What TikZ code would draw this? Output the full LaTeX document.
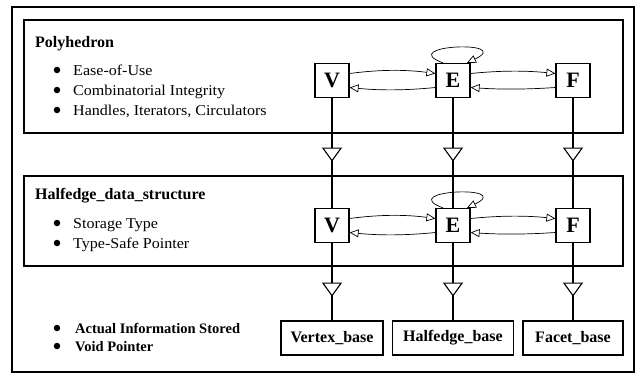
\documentclass[tikz,border=0pt]{standalone}
\usepackage{fontspec}
\setmainfont{Liberation Serif}
\newfontfamily\itemfont{Liberation Serif}[FakeStretch=1.07]
\usetikzlibrary{arrows.meta,decorations.markings}

\begin{document}
\begin{tikzpicture}[x=1pt,y=-1pt,
  frame/.style={draw, line width=1.3pt},
  cls/.style={draw, line width=1.2pt, fill=white, minimum width=34pt, minimum height=34pt,
    inner sep=0pt, font=\fontsize{22}{22}\selectfont\bfseries},
  basebox/.style={draw, line width=1.2pt, minimum height=34pt, inner sep=0pt,
    font=\fontsize{16}{16}\selectfont\bfseries},
  title/.style={anchor=base west, inner sep=0pt, font=\fontsize{16}{16}\selectfont\bfseries},
  item/.style={anchor=base west, inner sep=0pt, font=\itemfont\fontsize{15}{15}\selectfont},
  bolditem/.style={anchor=base west, inner sep=0pt, font=\fontsize{14.5}{15}\selectfont\bfseries},
  dot/.style={circle, fill, inner sep=0pt, minimum size=6.5pt},
  assoc/.style={line width=0.7pt, -{Triangle[open, length=9pt, width=8pt]}},
  inherit/.style={line width=1.1pt, postaction={decorate},
    decoration={markings, mark=at position #1 with
      {\arrow{Triangle[fill=white, length=14pt, width=20pt]}}}},
]
\useasboundingbox (0,0) rectangle (638,376);

% outer frame and the two layer panels
\draw[line width=2.2pt] (12,7) rectangle (634,372);
\draw[frame] (24,20) rectangle (623,133);
\draw[frame] (24,176) rectangle (623,266);

% Polyhedron layer
\node[title] (ptitle) at (35,47) {Polyhedron};
\node[dot] (pd1) at (57,70) {};
\node[item] (pi1) at (73,75) {Ease-of-Use};
\node[dot] (pd2) at (57,90) {};
\node[item] (pi2) at (73,95) {Combinatorial Integrity};
\node[dot] (pd3) at (57,110) {};
\node[item] (pi3) at (73,115) {Handles, Iterators, Circulators};

\node[cls] (V1) at (332,80.5) {V};
\node[cls] (E1) at (453,80.5) {E};
\node[cls] (F1) at (573,80.5) {F};

% Halfedge data structure layer
\node[title] (htitle) at (35,199) {Halfedge\_data\_structure};
\node[dot] (hd1) at (57,223) {};
\node[item] (hi1) at (73,228) {Storage Type};
\node[dot] (hd2) at (57,243) {};
\node[item] (hi2) at (73,248) {Type-Safe Pointer};

\node[cls] (V2) at (332,225.5) {V};
\node[cls] (E2) at (453,225.5) {E};
\node[cls] (F2) at (573,225.5) {F};

% base classes
\node[dot] (bd1) at (57,328) {};
\node[bolditem] (bi1) at (75,333) {Actual Information Stored};
\node[dot] (bd2) at (57,346) {};
\node[bolditem] (bi2) at (75,351) {Void Pointer};

\node[basebox, minimum width=102pt] (Vb) at (332,338) {Vertex\_base};
\node[basebox, minimum width=121pt] (Eb) at (453,338) {Halfedge\_base};
\node[basebox, minimum width=100pt] (Fb) at (573,338) {Facet\_base};

% incidences inside each layer
\foreach \v/\e/\f in {V1/E1/F1, V2/E2/F2} {
  \draw[assoc] ([yshift=7pt]\v.east) .. controls +(30,-4) and +(-30,-4) .. ([yshift=7pt]\e.west);
  \draw[assoc] ([yshift=-7pt]\e.west) .. controls +(-30,3) and +(30,3) .. ([yshift=-7pt]\v.east);
  \draw[assoc] ([yshift=7pt]\e.east) .. controls +(30,-3) and +(-30,-3) .. ([yshift=7pt]\f.west);
  \draw[assoc] ([yshift=-7pt]\f.west) .. controls +(-30,2) and +(30,2) .. ([yshift=-7pt]\e.east);
  \draw[assoc] ([xshift=-10pt]\e.north) .. controls +(-48,-18) and +(48,-23) .. ([xshift=14pt]\e.north);
}

% derivation between layers
\foreach \a/\b in {V1/V2, E1/E2, F1/F2} {
  \draw[inherit=63.5pt] (\a) -- (\b);
}
\foreach \a/\b in {V2/Vb, E2/Eb, F2/Fb} {
  \draw[inherit=53.5pt] (\a) -- (\b);
}
\end{tikzpicture}
\end{document}
